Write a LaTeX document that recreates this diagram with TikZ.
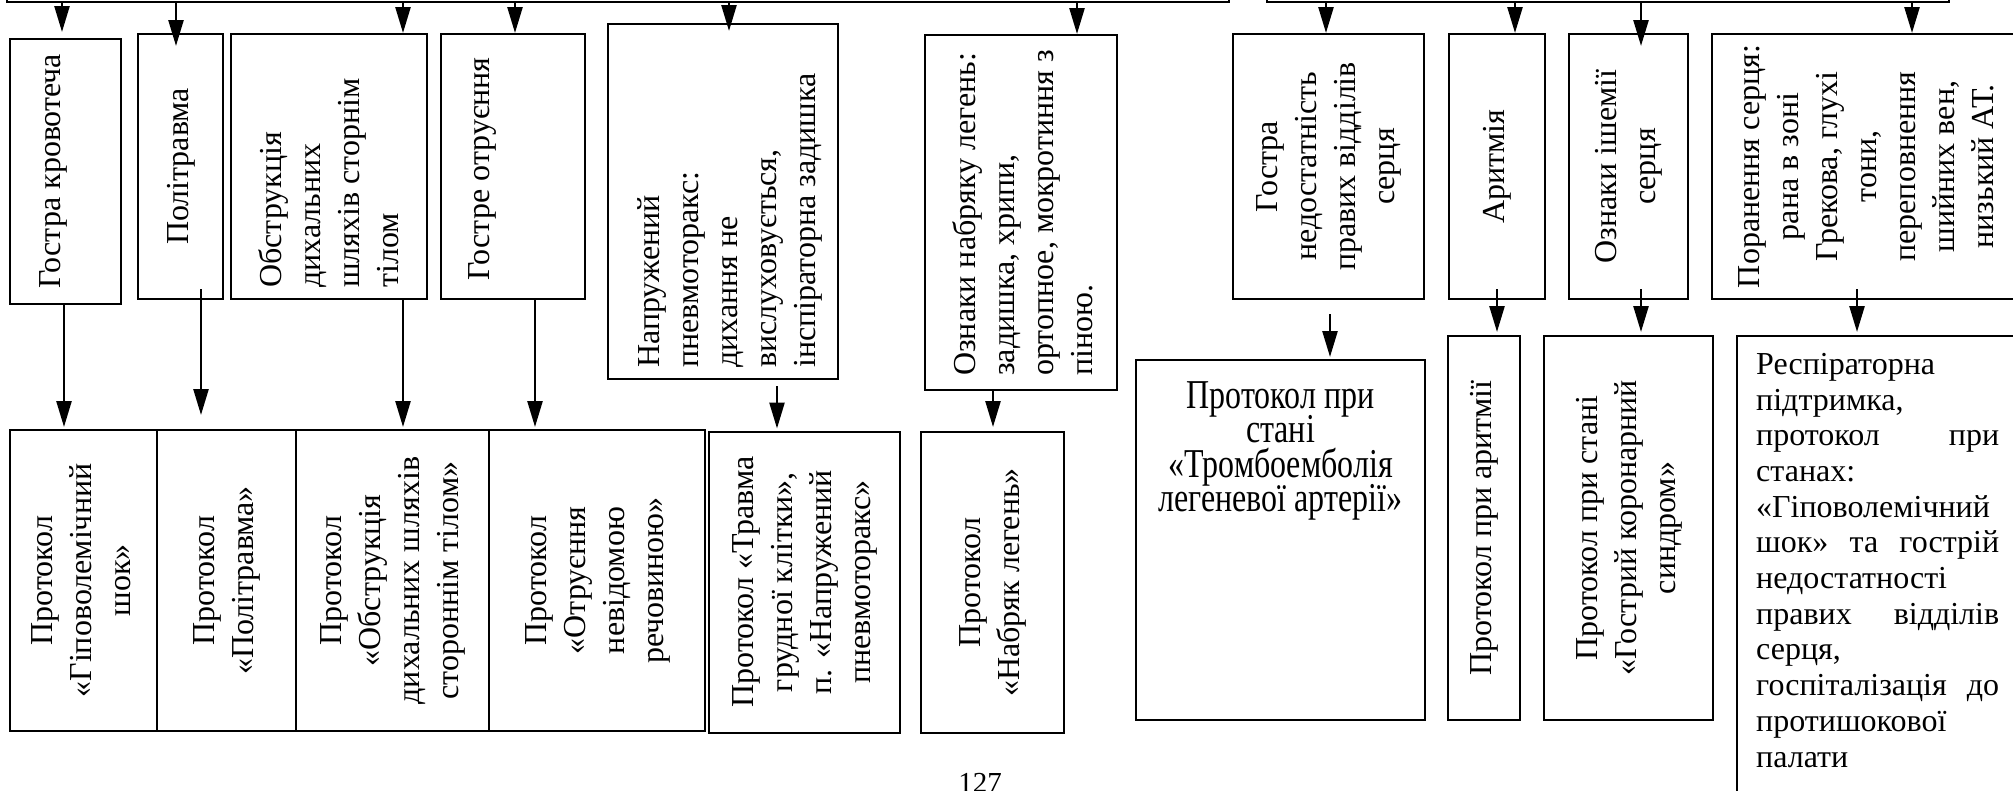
\documentclass[tikz,border=0pt]{standalone}
\usepackage{fontspec}
\setmainfont{Liberation Serif}
\newfontfamily\condserif[FakeStretch=0.78]{Liberation Serif}
\usepackage{graphicx}
\usepackage{tikz}
\usetikzlibrary{arrows.meta}
\newcommand{\vfont}{\fontsize{32}{39}\selectfont}
\newcommand{\vtab}[1]{\rotatebox{90}{\begin{tabular}{@{}c@{}}#1\end{tabular}}}
\tikzset{
    plain box/.style={rectangle, draw, line width=2pt, inner sep=0pt, font=\vfont},
    sign box/.style={plain box, minimum height=265pt},
    protocol box/.style={plain box, minimum height=301pt},
    bar box/.style={rectangle, draw, line width=2pt, minimum height=62pt},
    side text/.style={rotate=90, anchor=north west, align=left, inner sep=0pt, font=\vfont},
    flat text/.style={inner sep=0pt, font={\condserif\fontsize{41}{34.5}\selectfont\lineskiplimit=-40pt}},
    para text/.style={inner sep=0pt, align=left, font={\fontsize{32}{35.7}\selectfont\lineskiplimit=-40pt}},
    flow arrow/.style={-{Triangle[length=26pt,width=15pt]}, line width=2.5pt}
}
\begin{document}
\begin{tikzpicture}[x=1pt, y=-1pt]
\useasboundingbox (0,0) rectangle (2013,790);
% Upper blocks
\node[bar box, minimum width=1222pt] (barl) at (618,-29) {};
\node[bar box, minimum width=682pt] (barr) at (1608,-29) {};

% Signs
\node[sign box, minimum width=111pt] (bleed) at (65.5,171.5) {};
\node[side text] (bleedtxt) at ([xshift=30pt,yshift=16pt]bleed.south west) {Гостра кровотеча};
\node[sign box, minimum width=85pt] (poly) at (180.5,166.5) {\vtab{Політравма}};
\node[sign box, minimum width=196pt] (obstr) at (329,166.5) {};
\node[side text] (obstrtxt) at ([xshift=28pt,yshift=12pt]obstr.south west) {Обструкція\\дихальних\\шляхів сторнім\\тілом};
\node[sign box, minimum width=144pt] (poison) at (513,166.5) {};
\node[side text] (poisontxt) at ([xshift=28pt,yshift=19pt]poison.south west) {Гостре отруєння};
\node[sign box, minimum width=230pt, minimum height=355pt] (ptx) at (723,201.5) {};
\node[side text] (ptxtxt) at ([xshift=30pt,yshift=12pt]ptx.south west) {Напружений\\пневмоторакс:\\дихання не\\вислуховується,\\інспіраторна задишка};
\node[sign box, minimum width=192pt, minimum height=355pt] (edema) at (1021,212.5) {};
\node[side text] (edematxt) at ([xshift=28pt,yshift=15pt]edema.south west) {Ознаки набряку легень:\\задишка, хрипи,\\ортопное, мокротиння з\\піною.};
\node[sign box, minimum width=191pt] (rvf) at (1328.5,166.5) {\vtab{Гостра\\недостатність\\правих відділів\\серця}};
\node[sign box, minimum width=96pt] (arrh) at (1497,166.5) {\vtab{Аритмія}};
\node[sign box, minimum width=119pt] (isch) at (1628.5,166.5) {\vtab{Ознаки ішемії\\серця}};
\node[sign box, minimum width=313pt] (wound) at (1868.5,166.5) {\vtab{Поранення серця:\\рана в зоні\\Грекова, глухі\\тони,\\переповнення\\шийних вен,\\низький АТ.}};

% Protocols
\node[protocol box, minimum width=147pt] (pbleed) at (83.5,580.5) {\vtab{Протокол\\«Гіповолемічний\\шок»}};
\node[protocol box, minimum width=139pt] (ppoly) at (226.5,580.5) {\vtab{Протокол\\«Політравма»}};
\node[protocol box, minimum width=193pt] (pobstr) at (392.5,580.5) {\vtab{Протокол\\«Обструкція\\дихальних шляхів\\стороннім тілом»}};
\node[protocol box, minimum width=216pt] (ppoison) at (597,580.5) {\vtab{Протокол\\«Отруєння\\невідомою\\речовиною»}};
\node[protocol box, minimum width=191pt] (pptx) at (804.5,582) {\vtab{Протокол «Травма\\грудної клітки»,\\п. «Напружений\\пневмоторакс»}};
\node[protocol box, minimum width=143pt] (pedema) at (992.5,582.5) {\vtab{Протокол\\«Набряк легень»}};
\node[plain box, minimum width=289pt, minimum height=360pt] (ptela) at (1280.5,540) {};
\node[flat text, anchor=north, align=center] (ptelatxt) at ([yshift=-22pt]ptela.north) {Протокол при\\стані\\«Тромбоемболія\\легеневої артерії»};
\node[plain box, minimum width=72pt, minimum height=384pt] (parrh) at (1484,528) {\vtab{Протокол при аритмії}};
\node[plain box, minimum width=169pt, minimum height=384pt] (pacs) at (1628.5,528) {\vtab{Протокол при стані\\«Гострий коронарний\\синдром»}};
\node[plain box, minimum width=288pt, minimum height=484pt] (presp) at (1881,578) {};
\node[para text, anchor=north west, text width=243pt] (presptxt) at ([xshift=20pt,yshift=-18pt]presp.north west) {Респіраторна\\підтримка,\\протокол\hfill при\\станах:\\«Гіповолемічний\\шок»\hfill та\hfill гострій\\недостатності\\правих\hfill відділів\\серця,\\госпіталізація\hfill до\\протишокової\\палати};

\node[font=\fontsize{29}{34}\selectfont, anchor=base, inner sep=0pt] (pagenum) at (980,792) {127};

% Arrows from the upper blocks
\draw[flow arrow] ([xshift=-3.5pt]bleed.north |- barl.south) -- ([xshift=-3.5pt,yshift=6pt]bleed.north);
\draw[flow arrow] ([xshift=-4.5pt]poly.north |- barl.south) -- ([xshift=-4.5pt,yshift=-13pt]poly.north);
\draw[flow arrow] ([xshift=74pt]obstr.north |- barl.south) -- ([xshift=74pt]obstr.north);
\draw[flow arrow] ([xshift=2pt]poison.north |- barl.south) -- ([xshift=2pt]poison.north);
\draw[flow arrow] ([xshift=6pt]ptx.north |- barl.south) -- ([xshift=6pt,yshift=-8pt]ptx.north);
\draw[flow arrow] ([xshift=56pt]edema.north |- barl.south) -- ([xshift=56pt]edema.north);
\draw[flow arrow] ([xshift=-2.5pt]rvf.north |- barr.south) -- ([xshift=-2.5pt]rvf.north);
\draw[flow arrow] ([xshift=18pt]arrh.north |- barr.south) -- ([xshift=18pt]arrh.north);
\draw[flow arrow] ([xshift=12.5pt]isch.north |- barr.south) -- ([xshift=12.5pt,yshift=-13pt]isch.north);
\draw[flow arrow] ([xshift=43.5pt]wound.north |- barr.south) -- ([xshift=43.5pt]wound.north);

% Arrows to the protocols
\draw[flow arrow] ([xshift=-1.5pt]bleed.south) -- ([xshift=-1.5pt,yshift=2pt]bleed.south |- pbleed.north);
\draw[flow arrow] ([xshift=20.5pt,yshift=11pt]poly.south) -- ([xshift=20.5pt,yshift=14pt]poly.south |- ppoly.north);
\draw[flow arrow] ([xshift=74pt]obstr.south) -- ([xshift=74pt,yshift=2pt]obstr.south |- pobstr.north);
\draw[flow arrow] ([xshift=22pt]poison.south) -- ([xshift=22pt,yshift=2pt]poison.south |- ppoison.north);
\draw[flow arrow] ([xshift=54pt,yshift=-6pt]ptx.south) -- ([xshift=54pt,yshift=2pt]ptx.south |- pptx.north);
\draw[flow arrow] ([xshift=-28pt]edema.south) -- ([xshift=-28pt,yshift=4pt]edema.south |- pedema.north);
\draw[flow arrow] ([xshift=1.5pt,yshift=-14pt]rvf.south) -- ([xshift=1.5pt,yshift=2pt]rvf.south |- ptela.north);
\draw[flow arrow] ([yshift=11pt]arrh.south) -- ([yshift=3pt]arrh.south |- parrh.north);
\draw[flow arrow] ([xshift=12.5pt,yshift=11pt]isch.south) -- ([xshift=12.5pt,yshift=3pt]isch.south |- pacs.north);
\draw[flow arrow] ([xshift=-11.5pt,yshift=11pt]wound.south) -- ([xshift=-11.5pt,yshift=3pt]wound.south |- presp.north);
\end{tikzpicture}
\end{document}
